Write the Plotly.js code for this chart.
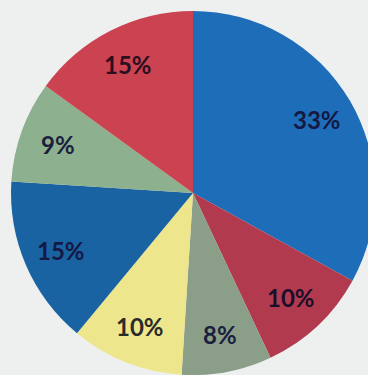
<!DOCTYPE html>
<html>
<head>
<meta charset="utf-8">
<script src="https://cdn.plot.ly/plotly-3.0.1.min.js"></script>
<style>
html,body{margin:0;padding:0;background:#eef0f0;overflow:hidden;width:368px;height:375px;}
#chart{width:386px;height:386px;}
</style>
</head>
<body>
<div id="chart"></div>
<script>
const labels = ["A", "B", "C", "D", "E", "F", "G"];
const values = [33, 10, 8, 10, 15, 9, 15];
const colors = ["#1e6db9", "#b23a4e", "#8a9e88", "#ede68c", "#1a63a2", "#8db08e", "#cb4350"];
const textColors = ["#141844", "#1a0f2a", "#1a1f40", "#2a2a2a", "#141844", "#1a1f40", "#2a0f20"];

const W = 386, R = 182, C = 193, LABEL_R = 0.79;
const total = values.reduce((a, b) => a + b, 0);
let cum = 0;
const annotations = values.map((v, i) => {
  const mid = (cum + v / 2) / total * 2 * Math.PI;
  cum += v;
  const px = C + LABEL_R * R * Math.sin(mid);
  const py = C - LABEL_R * R * Math.cos(mid);
  return {
    xref: "paper", yref: "paper",
    x: px / W, y: 1 - py / W,
    xanchor: "center", yanchor: "middle",
    text: v + "%",
    showarrow: false,
    font: {family: "Lato, 'Open Sans', sans-serif", size: 24, color: textColors[i], weight: "bold"}
  };
});

Plotly.newPlot("chart", [{
  type: "pie",
  labels: labels,
  values: values,
  sort: false,
  direction: "clockwise",
  rotation: 0,
  marker: {colors: colors, line: {width: 0}},
  textinfo: "none",
  hoverinfo: "none",
  domain: {x: [(C - R) / W, (C + R) / W], y: [(W - C - R) / W, (W - C + R) / W]}
}], {
  width: W, height: W,
  margin: {l: 0, r: 0, t: 0, b: 0},
  paper_bgcolor: "#eef0f0",
  showlegend: false,
  annotations: annotations
}, {staticPlot: true, displayModeBar: false});
</script>
</body>
</html>
